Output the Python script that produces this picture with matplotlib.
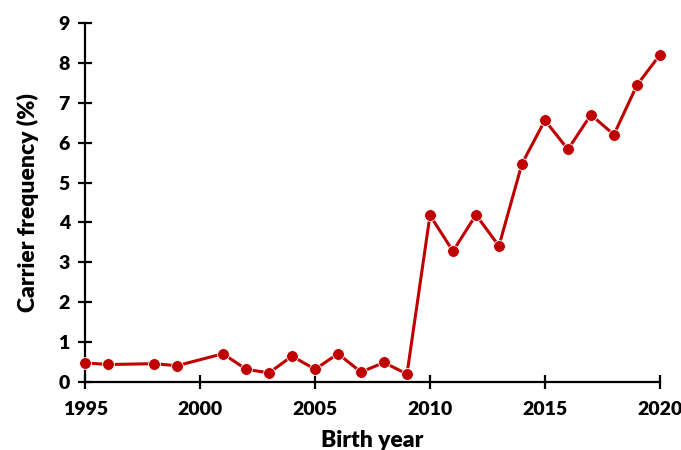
import matplotlib.pyplot as plt

years = [1995, 1996, 1998, 1999, 2001, 2002, 2003, 2004, 2005, 2006, 2007, 2008, 2009,
         2010, 2011, 2012, 2013, 2014, 2015, 2016, 2017, 2018, 2019, 2020]
freq = [0.48, 0.44, 0.46, 0.41, 0.71, 0.32, 0.23, 0.65, 0.32, 0.71, 0.25, 0.49, 0.20,
        4.18, 3.28, 4.19, 3.41, 5.47, 6.56, 5.83, 6.70, 6.20, 7.44, 8.20]

plt.rcParams['font.family'] = ['Lato', 'DejaVu Sans']
plt.rcParams['font.weight'] = 'bold'

fig = plt.figure(figsize=(6.81, 4.5), dpi=100)
ax = fig.add_axes([0.125, 0.151, 0.844, 0.798])

ax.plot(years, freq, color="#C00000", lw=2.2, marker="o", markersize=8.5,
        markeredgecolor="white", markeredgewidth=0.6, clip_on=False, zorder=3)

ax.set_xlim(1995, 2020)
ax.set_ylim(0, 9)
ax.set_xticks(range(1995, 2021, 5))
ax.set_yticks(range(0, 10))
ax.spines["top"].set_visible(False)
ax.spines["right"].set_visible(False)
for s in ["left", "bottom"]:
    ax.spines[s].set_linewidth(1.6)
ax.tick_params(direction="inout", length=10, width=1.6, labelsize=14)
ax.tick_params(axis="x", pad=9)
ax.tick_params(axis="y", pad=6)
for lab in ax.get_xticklabels() + ax.get_yticklabels():
    lab.set_fontweight("heavy")

ax.set_xlabel("Birth year", fontsize=16.5, fontweight="heavy", labelpad=8)
ax.set_ylabel("Carrier frequency (%)", fontsize=16.5, fontweight="heavy", labelpad=14)

fig.savefig("out.png", dpi=100)
